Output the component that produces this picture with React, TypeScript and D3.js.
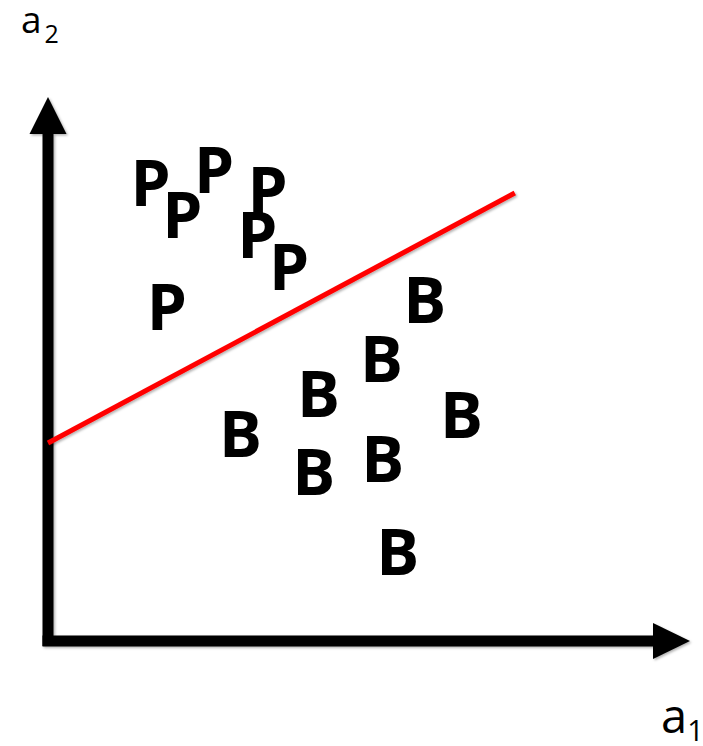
import React from "react";
import * as d3 from "d3";

const pLabels = ["P", "P", "P", "P", "P", "P", "P"];
const pX = [1.71, 2.24, 2.77, 3.66, 3.49, 4.02, 1.98];
const pY = [8.7, 8.06, 8.96, 8.56, 7.66, 7.02, 6.22];

const bLabels = ["B", "B", "B", "B", "B", "B", "B", "B"];
const bX = [6.28, 5.56, 4.51, 3.21, 4.43, 5.58, 6.89, 5.83];
const bY = [6.36, 5.18, 4.48, 3.68, 2.92, 3.18, 4.06, 1.32];

const boundaryX = [0, 7.78];
const boundaryY = [3.96, 8.96];

const axisXLabel = ["a", "1"];
const axisYLabel = ["a", "2"];

export default function App() {
  const W = 703;
  const H = 746;
  const x = d3.scaleLinear().domain([0, 10]).range([48, 648]);
  const y = d3.scaleLinear().domain([0, 10]).range([641, 141]);

  const line = d3
    .line<number>()
    .x((d) => x(boundaryX[d]))
    .y((d) => y(boundaryY[d]));

  const x0 = x(0);
  const y0 = y(0);
  const font = "'Open Sans', 'DejaVu Sans', sans-serif";

  return (
    <svg
      width={W}
      height={H}
      style={{ position: "absolute", left: 0, top: 0, background: "#fff" }}
    >
      <defs>
        <filter id="sh" x="-20%" y="-20%" width="140%" height="140%">
          <feDropShadow dx="1.5" dy="1.5" stdDeviation="1.2" floodColor="#000" floodOpacity="0.3" />
        </filter>
      </defs>
      {/* axes */}
      <g filter="url(#sh)">
        <path
          d={`M${x0},${y0 + 5} L${x0},130`}
          stroke="#000"
          strokeWidth={11}
          fill="none"
        />
        <path
          d={`M${x0 - 5.5},${y0} L${656},${y0}`}
          stroke="#000"
          strokeWidth={11}
          fill="none"
        />
        <path d={`M${x0 - 18.5},134 L${x0},97 L${x0 + 18.5},134 Z`} fill="#000" />
        <path d={`M653,${y0 - 18} L690,${y0} L653,${y0 + 18} Z`} fill="#000" />
      </g>

      {/* boundary */}
      <path
        d={line([0, 1]) || ""}
        stroke="#ff0000"
        strokeWidth={5}
        fill="none"
        filter="url(#sh)"
      />

      {/* points */}
      {pLabels.map((t, i) => (
        <text
          key={"p" + i}
          x={x(pX[i])}
          y={y(pY[i])}
          textAnchor="middle"
          fontFamily={font}
          fontWeight={700}
          fontSize={64}
          fill="#000"
        >
          {t}
        </text>
      ))}
      {bLabels.map((t, i) => (
        <text
          key={"b" + i}
          x={x(bX[i])}
          y={y(bY[i])}
          textAnchor="middle"
          fontFamily={font}
          fontWeight={700}
          fontSize={64}
          fill="#000"
        >
          {t}
        </text>
      ))}

      {/* axis labels */}
      <text x={21} y={33} fontFamily={font} fontSize={37} fill="#000">
        {axisYLabel[0]}
        <tspan fontSize={25} dy={10} dx={3}>
          {axisYLabel[1]}
        </tspan>
      </text>
      <text x={661} y={733} fontFamily={font} fontSize={47} fill="#000">
        {axisXLabel[0]}
        <tspan fontSize={29} dy={8} dx={0}>
          {axisXLabel[1]}
        </tspan>
      </text>
    </svg>
  );
}
